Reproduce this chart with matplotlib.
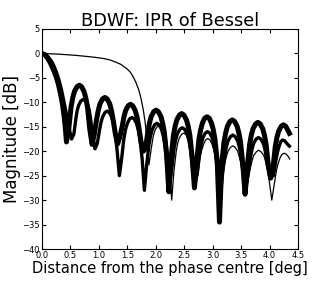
import matplotlib.pyplot as plt
import numpy as np

# curve A: thick top curve
xa = [0.0, 0.05, 0.10, 0.15, 0.20, 0.25, 0.29, 0.33, 0.36, 0.39, 0.41, 0.43,
      0.47, 0.51, 0.54, 0.57, 0.615, 0.655, 0.695, 0.74, 0.77, 0.80, 0.84, 0.88,
      0.92, 0.96, 0.99, 1.02, 1.065, 1.105, 1.145, 1.19, 1.22, 1.25, 1.29, 1.33,
      1.37, 1.41, 1.44, 1.47, 1.515, 1.555, 1.595, 1.64, 1.67, 1.70, 1.74, 1.78,
      1.82, 1.86, 1.89, 1.92, 1.965, 2.005, 2.045, 2.09, 2.12, 2.15, 2.19, 2.23,
      2.27, 2.31, 2.34, 2.37, 2.415, 2.455, 2.495, 2.54, 2.57, 2.60, 2.64, 2.68,
      2.72, 2.76, 2.79, 2.82, 2.86, 2.90, 2.94, 2.98, 3.01, 3.04, 3.08, 3.12,
      3.16, 3.20, 3.23, 3.26, 3.305, 3.345, 3.385, 3.43, 3.46, 3.49, 3.53, 3.57,
      3.61, 3.65, 3.68, 3.71, 3.755, 3.795, 3.835, 3.88, 3.91, 3.94, 3.98, 4.02,
      4.06, 4.10, 4.13, 4.16, 4.205, 4.245, 4.285, 4.33, 4.37]
ya = [0.0, -0.25, -1.0, -2.0, -3.3, -4.8, -6.4, -8.5, -10.4, -13.0, -15.2, -18.1,
      -15.5, -11.0, -9.1, -7.8, -6.8, -6.5, -6.8, -7.8, -9.1, -11.0, -15.5, -18.6,
      -16.5, -13.5, -11.6, -10.3, -9.3, -9.0, -9.3, -10.3, -11.6, -13.5, -16.5, -18.5,
      -17.0, -14.9, -13.0, -11.7, -10.7, -10.4, -10.7, -11.7, -13.0, -14.9, -18.0, -20.0,
      -19.5, -16.1, -14.2, -12.9, -11.9, -11.6, -11.9, -12.9, -14.2, -16.1, -20.6, -28.3,
      -21.3, -16.8, -14.9, -13.6, -12.6, -12.3, -12.6, -13.6, -14.9, -16.8, -21.3, -27.5,
      -22.0, -17.5, -15.55, -14.25, -13.25, -12.95, -13.25, -14.25, -15.55, -17.5, -22.0, -34.5,
      -22.6, -18.1, -16.2, -14.9, -13.9, -13.6, -13.9, -14.9, -16.2, -18.1, -22.6, -28.8,
      -23.1, -18.6, -16.7, -15.4, -14.4, -14.1, -14.4, -15.4, -16.7, -18.6, -23.1, -25.5,
      -23.6, -19.1, -17.2, -15.9, -14.9, -14.6, -14.9, -15.9, -16.8]

# curve B: thick middle curve
xb = [0.0, 0.05, 0.10, 0.15, 0.20, 0.25, 0.30, 0.34, 0.38, 0.42, 0.46, 0.49, 0.52,
      0.56, 0.595, 0.62, 0.645, 0.685, 0.725, 0.765, 0.805, 0.83, 0.855, 0.89, 0.93,
      0.97, 1.01, 1.035, 1.065, 1.105, 1.145, 1.185, 1.225, 1.255, 1.28, 1.32, 1.36,
      1.40, 1.44, 1.47, 1.50, 1.54, 1.58, 1.62, 1.66, 1.69, 1.72, 1.76, 1.80,
      1.84, 1.88, 1.91, 1.94, 1.98, 2.02, 2.06, 2.10, 2.13, 2.16, 2.20, 2.24,
      2.28, 2.32, 2.35, 2.38, 2.425, 2.465, 2.505, 2.55, 2.58, 2.61, 2.65, 2.69,
      2.73, 2.77, 2.80, 2.83, 2.87, 2.91, 2.95, 2.99, 3.02, 3.05, 3.09, 3.13,
      3.17, 3.21, 3.24, 3.27, 3.315, 3.355, 3.395, 3.44, 3.47, 3.50, 3.54, 3.58,
      3.62, 3.66, 3.69, 3.72, 3.765, 3.805, 3.845, 3.89, 3.92, 3.95, 3.99, 4.03,
      4.07, 4.11, 4.14, 4.17, 4.20, 4.23, 4.27, 4.31, 4.37]
yb = [0.0, -0.15, -0.6, -1.3, -2.3, -3.7, -5.5, -7.3, -9.5, -11.9, -14.3, -16.0, -17.5,
      -16.5, -13.4, -11.6, -10.6, -9.7, -9.4, -9.7, -10.6, -11.6, -13.4, -16.8, -19.5,
      -18.5, -15.8, -14.2, -13.0, -12.1, -11.8, -12.1, -13.0, -14.2, -15.8, -19.8, -25.0,
      -21.5, -17.4, -15.5, -14.3, -13.4, -13.1, -13.4, -14.3, -15.5, -17.4, -21.5, -28.0,
      -22.8, -18.7, -16.8, -15.5, -14.6, -14.3, -14.6, -15.5, -16.8, -18.7, -22.8, -27.0,
      -23.7, -19.6, -17.7, -16.4, -15.5, -15.2, -15.5, -16.4, -17.7, -19.6, -23.7, -26.0,
      -24.5, -20.4, -18.5, -17.2, -16.3, -16.0, -16.3, -17.2, -18.5, -20.4, -24.5, -30.0,
      -25.0, -21.1, -19.2, -17.9, -17.0, -16.7, -17.0, -17.9, -19.2, -21.1, -25.0, -28.0,
      -25.0, -21.6, -19.7, -18.4, -17.5, -17.2, -17.5, -18.4, -19.7, -21.6, -24.0, -25.0,
      -25.0, -22.0, -20.2, -18.9, -18.0, -17.7, -17.9, -18.5, -19.2]

# curve C: thin curve with the wide main lobe
xc = [0.0, 0.30, 0.60, 0.90, 1.09, 1.20, 1.30, 1.38, 1.44, 1.50, 1.55, 1.60, 1.65,
      1.70, 1.74, 1.78, 1.81, 1.85, 1.88,
      1.92, 1.955, 1.98, 2.005, 2.04, 2.075, 2.11, 2.145, 2.17, 2.195, 2.235, 2.28,
      2.32, 2.36, 2.385, 2.41, 2.45, 2.49, 2.53, 2.57, 2.595, 2.62, 2.66, 2.70,
      2.74, 2.78, 2.81, 2.84, 2.875, 2.915, 2.955, 2.99, 3.02, 3.05, 3.09, 3.13,
      3.17, 3.21, 3.24, 3.27, 3.315, 3.355, 3.395, 3.44, 3.47, 3.50, 3.54, 3.58,
      3.62, 3.66, 3.69, 3.72, 3.77, 3.81, 3.85, 3.90, 3.93, 3.96, 4.00, 4.04,
      4.08, 4.12, 4.15, 4.18, 4.215, 4.255, 4.295, 4.33, 4.36]
yc = [0.0, -0.15, -0.4, -0.75, -1.05, -1.35, -1.8, -2.2, -2.7, -3.2, -3.8, -4.7, -5.9,
      -7.4, -9.2, -11.5, -13.8, -18.0, -22.8,
      -19.5, -17.0, -15.9, -15.3, -14.8, -14.6, -14.8, -15.5, -16.4, -18.0, -22.5, -30.0,
      -24.0, -20.0, -18.4, -17.4, -16.6, -16.3, -16.6, -17.4, -18.4, -20.0, -23.5, -27.0,
      -25.0, -21.2, -19.7, -18.6, -17.7, -17.4, -17.7, -18.6, -19.7, -21.2, -25.0, -30.0,
      -26.0, -22.7, -21.2, -20.0, -19.2, -18.9, -19.2, -20.0, -21.2, -22.7, -25.5, -28.0,
      -26.0, -23.6, -22.1, -20.9, -20.1, -19.8, -20.1, -20.9, -22.1, -23.6, -26.5, -30.0,
      -27.0, -24.0, -22.6, -21.5, -20.7, -20.4, -20.6, -21.1, -21.7]

fig = plt.figure(figsize=(3.32, 2.85), dpi=100)
ax = fig.add_axes([0.1265, 0.1263, 0.771, 0.772])

style = dict(color='black', solid_joinstyle='round', solid_capstyle='butt')
ax.plot(xc, yc, lw=0.9, **style)
ax.plot(xb, yb, lw=2.4, **style)
ax.plot(xa, ya, lw=3.6, **style)

ax.set_xlim(0, 4.5)
ax.set_ylim(-40, 5)
ax.set_xticks(np.arange(0, 4.51, 0.5))
ax.set_yticks(np.arange(-40, 5.1, 5))
ax.tick_params(direction='in', top=True, right=True, labelsize=6, length=3, pad=1.5)
for s in ax.spines.values():
    s.set_linewidth(0.8)

ax.set_title('BDWF: IPR of Bessel', fontsize=12.8, pad=2)
ax.set_xlabel('Distance from the phase centre [deg]', fontsize=10.5, labelpad=1)
ax.set_ylabel('Magnitude [dB]', fontsize=12, labelpad=1)

fig.savefig('out.png', dpi=100)
